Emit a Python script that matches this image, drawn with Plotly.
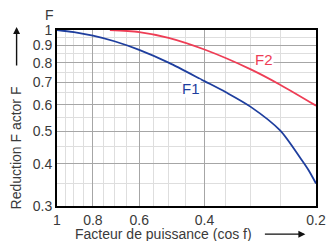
import math
import plotly.graph_objects as go

# Data
pf1 = [1.0, 0.9, 0.8, 0.7, 0.6, 0.5, 0.4, 0.35, 0.3, 0.25, 0.22, 0.21, 0.2]
f1 = [1.0, 0.986, 0.962, 0.926, 0.873, 0.80, 0.705, 0.653, 0.591, 0.503, 0.415, 0.385, 0.35]
pf2 = [0.72, 0.6, 0.5, 0.4, 0.3, 0.25, 0.2]
f2 = [1.0, 0.986, 0.948, 0.875, 0.764, 0.688, 0.596]

x_major = [1, 0.8, 0.6, 0.4, 0.2]
x_major_text = ["1", "0.8", "0.6", "0.4", "0.2"]
x_minor = [0.95, 0.9, 0.85, 0.75, 0.7, 0.65, 0.55, 0.5, 0.45, 0.35, 0.3, 0.25]
y_major = [1, 0.9, 0.8, 0.7, 0.6, 0.5, 0.4, 0.3]
y_major_text = ["1", "0.9", "0.8", "0.7", "0.6", "0.5", "0.4", "0.3"]
y_minor = [0.95, 0.85, 0.75, 0.65, 0.55, 0.45, 0.35]

BLUE = "#1e3e9e"
RED = "#ee3d55"
TXT = "#3a3a3a"
FONT = "Liberation Sans"

fig = go.Figure()
fig.add_trace(go.Scatter(x=pf2, y=f2, mode="lines",
                         line=dict(color=RED, width=1.8, shape="spline", smoothing=0.8),
                         showlegend=False, hoverinfo="skip"))
fig.add_trace(go.Scatter(x=pf1, y=f1, mode="lines",
                         line=dict(color=BLUE, width=1.8, shape="spline", smoothing=0.8),
                         showlegend=False, hoverinfo="skip"))

fig.update_layout(
    width=336, height=241,
    margin=dict(l=57, r=10, t=30, b=35),
    paper_bgcolor="white", plot_bgcolor="white",
    font=dict(family=FONT, size=14, color=TXT),
    xaxis=dict(
        type="log", range=[0, math.log10(0.2)],
        tickmode="array", tickvals=x_major, ticktext=x_major_text,
        showgrid=True, gridcolor="#a6a6a6", gridwidth=1.2,
        minor=dict(tickmode="array", tickvals=x_minor, showgrid=True, gridcolor="#dedede", gridwidth=1, ticks=""),
        showline=True, mirror=True, linecolor="#000", linewidth=2,
        ticks="", tickfont=dict(size=14, color=TXT), zeroline=False,
    ),
    yaxis=dict(
        type="log", range=[math.log10(0.3), 0],
        tickmode="array", tickvals=y_major, ticktext=y_major_text,
        showgrid=True, gridcolor="#a6a6a6", gridwidth=1.2,
        minor=dict(tickmode="array", tickvals=y_minor, showgrid=True, gridcolor="#dedede", gridwidth=1, ticks=""),
        showline=True, mirror=True, linecolor="#000", linewidth=2,
        ticks="", tickfont=dict(size=14, color=TXT), zeroline=False,
    ),
)

# Curve labels (white box breaks grid lines)
fig.add_annotation(x=math.log10(0.436), y=math.log10(0.672), text="F1", showarrow=False,
                   font=dict(size=15, color=BLUE), bgcolor="white", borderpad=0)
fig.add_annotation(x=math.log10(0.276), y=math.log10(0.819), text="F2", showarrow=False,
                   font=dict(size=15, color=RED), bgcolor="white", borderpad=0)

# Axis unit/title texts
fig.add_annotation(xref="paper", yref="paper", x=-0.03, y=1.085, text="F", showarrow=False,
                   font=dict(size=14, color=TXT), xanchor="center", yanchor="middle")
fig.add_annotation(xref="paper", yref="paper", x=-0.16, y=0.33, text="Reduction F actor F", showarrow=False,
                   textangle=-90, font=dict(size=14, color=TXT), xanchor="center", yanchor="middle")
fig.add_annotation(xref="paper", yref="paper", x=0.413, y=-0.158, text="Facteur de puissance (cos f)",
                   showarrow=False, font=dict(size=14, color=TXT), xanchor="center", yanchor="middle",
                   borderpad=0)

# Arrows
fig.add_annotation(xref="paper", yref="paper", x=-0.156, y=1.017, text="", showarrow=True,
                   ax=0, ay=40, arrowhead=2, arrowsize=1, arrowwidth=1.4, arrowcolor="#111")
fig.add_annotation(xref="paper", yref="paper", x=0.959, y=-0.16, text="", showarrow=True,
                   ax=-42, ay=0, arrowhead=2, arrowsize=1, arrowwidth=1.4, arrowcolor="#111")

fig.write_html("out.html", post_script="document.body.style.margin='0';",
               config={"displayModeBar": False})
